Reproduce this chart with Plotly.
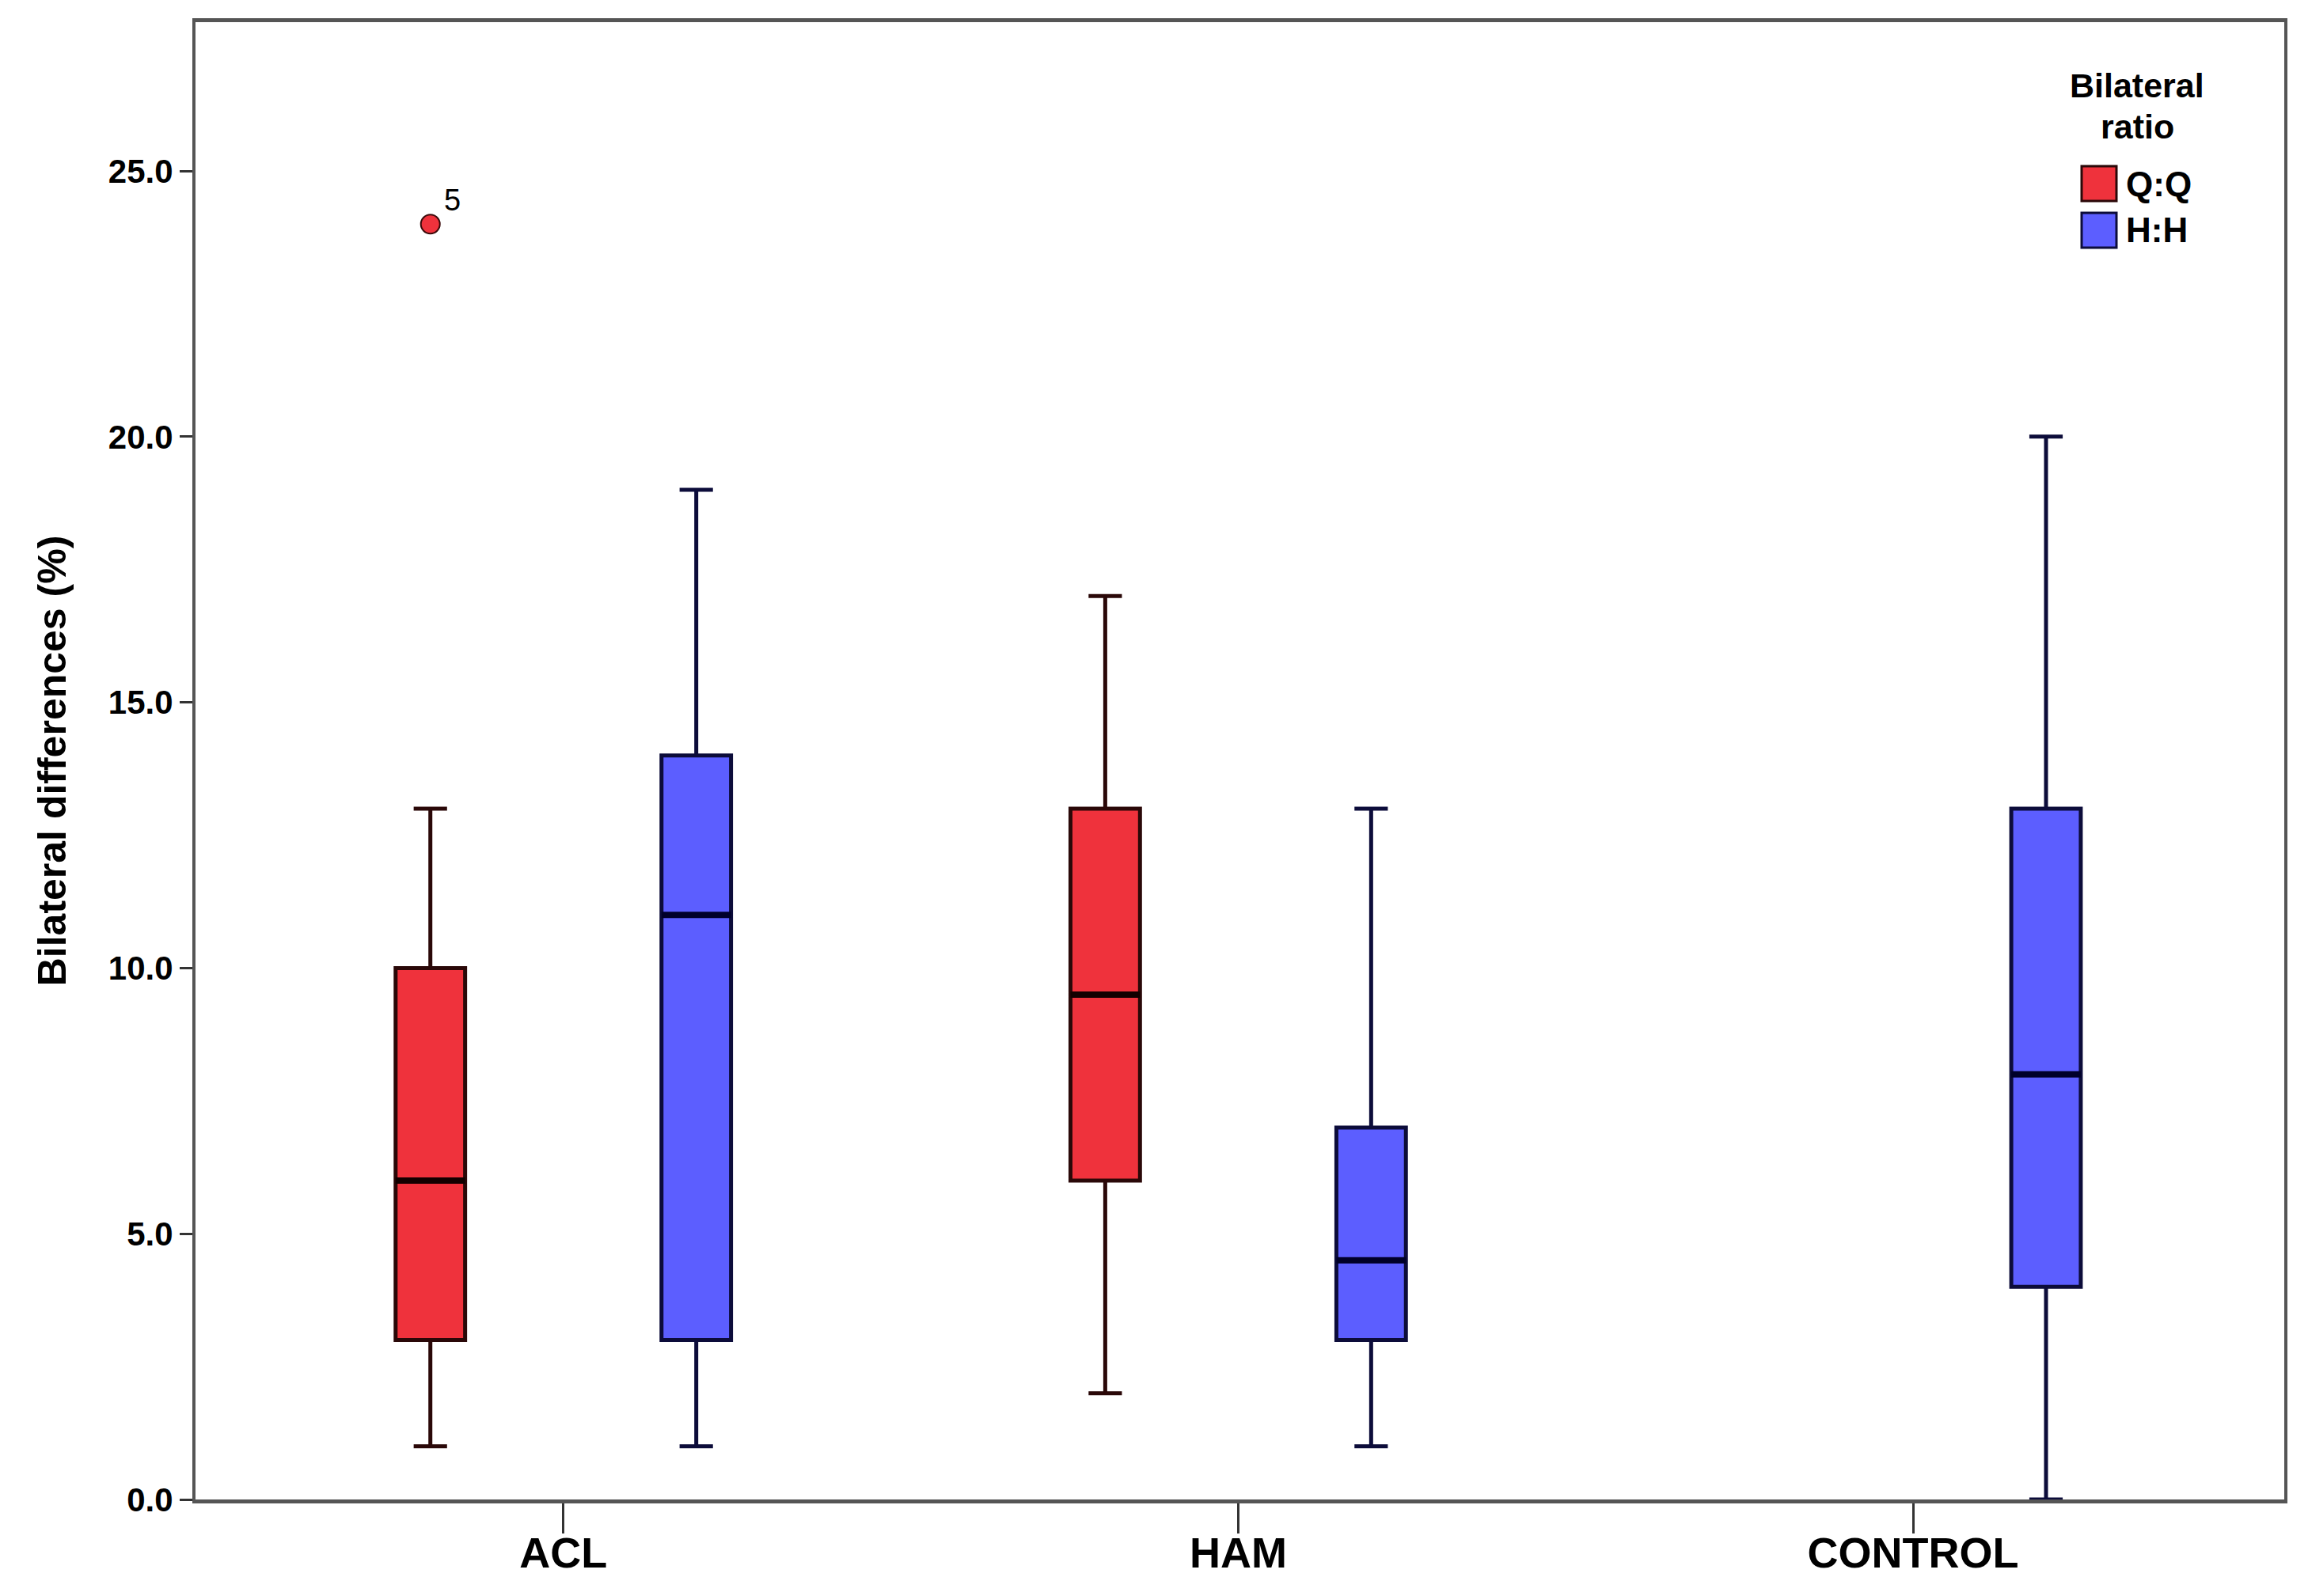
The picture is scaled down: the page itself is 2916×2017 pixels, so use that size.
import plotly.graph_objects as go

# ---- data ----
groups = ["ACL", "HAM", "CONTROL"]
series_names = ["Q:Q", "H:H"]

qq_lower = [1.0, 2.0, None]
qq_q1 = [3.0, 6.0, None]
qq_median = [6.0, 9.5, None]
qq_q3 = [10.0, 13.0, None]
qq_upper = [13.0, 17.0, None]

hh_lower = [1.0, 1.0, 0.0]
hh_q1 = [3.0, 3.0, 4.0]
hh_median = [11.0, 4.5, 8.0]
hh_q3 = [14.0, 7.0, 13.0]
hh_upper = [19.0, 13.0, 20.0]

outlier_group = "ACL"
outlier_series = "Q:Q"
outlier_value = 24.0
outlier_label = "5"

y_ticks = [0, 5, 10, 15, 20, 25]
legend_title_lines = ["Bilateral", "ratio"]
y_title = "Bilateral differences (%)"

# ---- styling ----
W, H = 2916, 2017
BODY = 8  # default page body margin
ML, MR, MT, MB = 247, 30, 28, 122
FONT = "Liberation Sans, Arial, sans-serif"
colors = {"Q:Q": "#EF323C", "H:H": "#5C5EFF"}
edge = {"Q:Q": "#2a0808", "H:H": "#0c0c3a"}
median_col = {"Q:Q": "#120000", "H:H": "#00002a"}
offsets = {"Q:Q": -0.197, "H:H": 0.197}
box_w = 0.103
axis_col = "#555555"

stats = {
    "Q:Q": (qq_lower, qq_q1, qq_median, qq_q3, qq_upper),
    "H:H": (hh_lower, hh_q1, hh_median, hh_q3, hh_upper),
}

fig = go.Figure()
for s in series_names:
    lo, q1, md, q3, up = stats[s]
    for i, g in enumerate(groups):
        if md[i] is None:
            continue
        pos = i + offsets[s]
        fig.add_trace(go.Box(
            x=[pos], q1=[q1[i]], median=[md[i]], q3=[q3[i]],
            lowerfence=[lo[i]], upperfence=[up[i]],
            width=box_w, whiskerwidth=0.48,
            fillcolor=colors[s], line=dict(color=edge[s], width=5),
            name=s, showlegend=False, boxpoints=False, hoverinfo="skip",
        ))
        # thicker median line on top of the box
        fig.add_trace(go.Scatter(
            x=[pos - box_w / 2, pos + box_w / 2], y=[md[i], md[i]], mode="lines",
            line=dict(color=median_col[s], width=8),
            showlegend=False, hoverinfo="skip",
        ))

ox = groups.index(outlier_group) + offsets[outlier_series]
fig.add_trace(go.Scatter(
    x=[ox], y=[outlier_value], mode="markers",
    marker=dict(symbol="circle", size=24, color=colors[outlier_series],
                line=dict(color="#3a0a0a", width=2)),
    showlegend=False, hoverinfo="skip",
))
fig.add_annotation(x=ox, y=outlier_value, text=outlier_label, showarrow=False,
                   xshift=28, yshift=30, font=dict(family=FONT, size=38, color="black"))

# ---- manual legend in paper coordinates ----
pw, ph = W - ML - MR, H - MT - MB
def px(x):
    return (x - ML) / pw
def py(y):
    return (H - MB - y) / ph

title_split = 134
for line_text, anchor in zip(legend_title_lines, ["bottom", "top"]):
    fig.add_annotation(xref="paper", yref="paper", x=px(2700), y=py(title_split), text=line_text,
                       showarrow=False, xanchor="center", yanchor=anchor,
                       font=dict(family=FONT, size=43, color="black", weight="bold"))
sw_top = [210, 269]
for s, top in zip(series_names, sw_top):
    fig.add_shape(type="rect", xref="paper", yref="paper",
                  x0=px(2630), x1=px(2674), y0=py(top + 44), y1=py(top),
                  fillcolor=colors[s], line=dict(color=edge[s], width=3))
    fig.add_annotation(xref="paper", yref="paper", x=px(2684), y=py(top + 22), text=s,
                       showarrow=False, xanchor="left", yanchor="middle",
                       font=dict(family=FONT, size=44, color="black", weight="bold"))

fig.update_layout(
    width=W - BODY, height=H - BODY,
    margin=dict(l=ML - BODY, r=MR, t=MT - BODY, b=MB, autoexpand=False),
    plot_bgcolor="white", paper_bgcolor="white",
    showlegend=False,
    font=dict(family=FONT, color="black"),
)
fig.update_xaxes(
    range=[-0.545, 2.55], tickmode="array", tickvals=list(range(len(groups))), ticktext=groups,
    ticks="outside", ticklen=38, tickwidth=3, tickcolor="#333333",
    ticklabelstandoff=-22,
    tickfont=dict(family=FONT, size=54, color="black", weight="bold"),
    showline=True, linecolor=axis_col, linewidth=5, mirror=True,
    showgrid=False, zeroline=False,
)
fig.update_yaxes(
    range=[0, 27.8], tickmode="array", tickvals=y_ticks, tickformat=".1f",
    ticks="outside", ticklen=16, tickwidth=3, tickcolor="#333333",
    tickfont=dict(family=FONT, size=42, color="black", weight="bold"),
    showline=True, linecolor=axis_col, linewidth=4, mirror=True,
    showgrid=False, zeroline=False,
    title=dict(text=y_title, standoff=38,
               font=dict(family=FONT, size=50, color="black", weight="bold")),
)

fig.write_html("out.html")
